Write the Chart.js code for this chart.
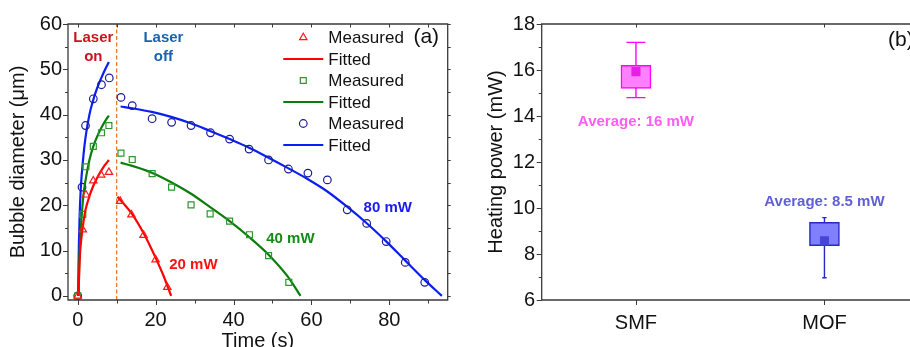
<!DOCTYPE html>
<html><head><meta charset="utf-8">
<script src="https://cdn.jsdelivr.net/npm/chart.js@4.4.0/dist/chart.umd.min.js"></script>
<style>
html,body{margin:0;padding:0;background:#fff;overflow:hidden;width:910px;height:347px;}
#ca{position:absolute;left:0;top:0;}
#cb{position:absolute;left:460px;top:0;}
</style></head><body>
<canvas id="ca" width="460" height="347"></canvas>
<canvas id="cb" width="480" height="347"></canvas>
<script>
// ---------- Panel (a): bubble diameter vs time ----------
const tRed   = [0, 1.3, 2.1, 4, 6, 8, 10.9, 13.8, 16.9, 20, 23];
const dRed   = [0, 14.6, 22.3, 25.4, 26.7, 27.3, 20.9, 17.9, 13.4, 8.0, 1.9];
const tGreen = [0, 1.3, 2.1, 4, 6.1, 8, 11.1, 14, 19.1, 24.1, 29.1, 34, 39, 44.1, 49, 54.2];
const dGreen = [0, 18, 28.5, 33, 36, 37.6, 31.5, 30.1, 27, 24, 20.1, 18.1, 16.5, 13.5, 8.9, 3.0];
const tBlue  = [0, 1.1, 2, 4, 6.1, 8.1, 11.1, 14, 19.1, 24.1, 29.1, 34.1, 39, 44, 49, 54.1, 59.1, 64.1, 69.2, 74.2, 79.2, 84.1, 89.1];
const dBlue  = [0, 24, 37.6, 43.5, 46.6, 48.1, 43.8, 42, 39.1, 38.3, 37.6, 36, 34.6, 32.4, 30, 28, 27.1, 25.6, 19, 16, 12, 7.4, 3];

const fitRedOnT   = [0.2, 0.4, 0.6, 1, 1.5, 2, 3, 4, 5, 6, 7, 8];
const fitRedOnD   = [0, 5.8, 9.5, 13.2, 16.5, 19, 22, 24.3, 26.1, 27.6, 28.9, 30];
const fitRedOffT  = [10.2, 14, 17, 20, 22, 24];
const fitRedOffD  = [21.9, 18, 13.7, 8.4, 4.5, 0];
const fitGreenOnT = [0.2, 0.4, 0.6, 1, 1.5, 2, 3, 4, 5, 6, 7, 8];
const fitGreenOnD = [0, 7.5, 12, 17.5, 22.5, 25.5, 30, 33, 35.2, 37, 38.5, 39.8];
const fitGreenOffT = [11, 14, 19, 24, 29, 34, 39, 44, 49, 54, 57.2];
const fitGreenOffD = [29.4, 28.7, 27.2, 25.1, 22.6, 19.6, 16.5, 13.0, 9.1, 4.2, 0];
const fitBlueOnT  = [0.1, 0.2, 0.3, 0.5, 0.75, 1, 1.5, 2, 3, 4, 5, 6, 7, 8];
const fitBlueOnD  = [0, 6.5, 11.5, 18, 23.2, 26.5, 31.3, 35, 40, 43.3, 45.9, 48, 49.9, 51.6];
const fitBlueOffT = [11, 14, 19, 24, 29, 34, 39, 44, 49, 54, 59, 64, 69, 74, 79, 84, 89, 93.5];
const fitBlueOffD = [41.8, 41.4, 40.6, 39.5, 38.1, 36.4, 34.6, 32.7, 30.5, 28.2, 25.8, 23.1, 19.8, 16.2, 12.2, 7.9, 3.6, 0];

const laserOffTime = 10;
const xTicksA = [0, 20, 40, 60, 80];
const xMinorA = [10, 30, 50, 70, 90];
const yTicksA = [0, 10, 20, 30, 40, 50, 60];
const yMinorA = [5, 15, 25, 35, 45, 55];
const powerLabels = ['20 mW', '40 mW', '80 mW'];

// ---------- Panel (b): heating power box plot ----------
const groups      = ['SMF', 'MOF'];
const boxLow      = [15.2, 8.36];
const boxHigh     = [16.2, 9.38];
const whiskerLow  = [14.8, 6.97];
const whiskerHigh = [17.2, 9.58];
const means       = [15.93, 8.57];
const avgText     = ['Average: 16 mW', 'Average: 8.5 mW'];
const yTicksB     = [6, 8, 10, 12, 14, 16, 18];
const yMinorB     = [7, 9, 11, 13, 15, 17];

const FONT = "'Liberation Sans', Arial, Helvetica, sans-serif";
const pts = (xs, ys) => xs.map((x, i) => ({x: x, y: ys[i]}));
const fitted = (tOn, dOn, tOff, dOff) => [...pts(tOn, dOn), {x: laserOffTime, y: null}, ...pts(tOff, dOff)];

function marker(ctx, style, x, y, r) {
  ctx.beginPath();
  if (style === 'triangle') {
    for (let k = 0; k < 3; k++) {
      const a = -Math.PI / 2 + k * 2 * Math.PI / 3;
      const px = x + r * Math.cos(a), py = y + r * Math.sin(a);
      k ? ctx.lineTo(px, py) : ctx.moveTo(px, py);
    }
    ctx.closePath();
  } else if (style === 'rect') {
    const s = r * Math.SQRT1_2;
    ctx.rect(x - s, y - s, 2 * s, 2 * s);
  } else {
    ctx.arc(x, y, r, 0, Math.PI * 2);
  }
  ctx.stroke();
}

const framePlugin = {
  id: 'frame',
  afterDraw(chart, args, o) {
    const {ctx, chartArea: a, scales: {x, y}} = chart;
    ctx.save();
    ctx.strokeStyle = '#3a3a3a';
    ctx.lineWidth = 1.3;
    ctx.beginPath();
    ctx.rect(a.left, a.top, a.right - a.left, a.bottom - a.top);
    ctx.stroke();
    ctx.lineWidth = 1;
    ctx.beginPath();
    const seg = (x1, y1, x2, y2) => { ctx.moveTo(x1, y1); ctx.lineTo(x2, y2); };
    (o.xMajor || []).forEach(v => { const p = Math.round(x.getPixelForValue(v)) + 0.5; seg(p, a.bottom, p, a.bottom + 5); });
    (o.xMinor || []).forEach(v => { const p = Math.round(x.getPixelForValue(v)) + 0.5; seg(p, a.bottom, p, a.bottom + 3.5); });
    (o.xTop || []).forEach(v => { const p = Math.round(x.getPixelForValue(v)) + 0.5; seg(p, a.top, p, a.top + 3.5); });
    (o.yMajor || []).forEach(v => { const p = Math.round(y.getPixelForValue(v)) + 0.5; seg(a.left, p, a.left - 5, p); });
    (o.yMinor || []).forEach(v => { const p = Math.round(y.getPixelForValue(v)) + 0.5; seg(a.left, p, a.left - 3, p); });
    (o.yRight || []).forEach(v => { const p = Math.round(y.getPixelForValue(v)) + 0.5; seg(a.right, p, a.right + 3, p); });
    ctx.stroke();
    ctx.restore();
  }
};

const textPlugin = {
  id: 'texts',
  afterDatasetsDraw(chart, args, o) {
    const {ctx, scales: {x, y}} = chart;
    ctx.save();
    (o.items || []).forEach(it => {
      ctx.font = (it.bold ? 'bold ' : '') + it.size + 'px ' + FONT;
      ctx.fillStyle = it.color;
      ctx.textAlign = it.align || 'center';
      ctx.textBaseline = 'middle';
      ctx.fillText(it.text, x.getPixelForValue(it.x), y.getPixelForValue(it.y));
    });
    ctx.restore();
  }
};

const legendPlugin = {
  id: 'legendA',
  afterDraw(chart, args, o) {
    const {ctx} = chart;
    const ds = chart.data.datasets.filter(d => d.legend);
    ctx.save();
    ctx.font = '17px ' + FONT;
    ctx.textBaseline = 'middle';
    ctx.textAlign = 'left';
    ds.forEach((d, i) => {
      const yy = o.top + i * o.step;
      if (d.showLine) {
        ctx.strokeStyle = d.borderColor; ctx.lineWidth = d.borderWidth;
        ctx.beginPath(); ctx.moveTo(o.x - 20, yy); ctx.lineTo(o.x + 20, yy); ctx.stroke();
      } else {
        ctx.strokeStyle = d.borderColor; ctx.lineWidth = d.pointBorderWidth;
        marker(ctx, d.pointStyle, o.x, yy, d.pointRadius);
      }
      ctx.fillStyle = '#111';
      ctx.fillText(d.label, o.x + 25, yy + 1);
    });
    ctx.restore();
  }
};

const tickFont = {family: FONT, size: 20};
const measured = (label, xs, ys, style, r, color) => ({
  label: label, legend: true, data: pts(xs, ys), showLine: false, pointStyle: style, pointRadius: r,
  borderColor: color, pointBorderColor: color, pointBackgroundColor: 'rgba(0,0,0,0)', pointBorderWidth: 1.2
});
const fitLine = (data, color) => ({
  label: 'Fitted', legend: true, data: data, showLine: true, borderColor: color, borderWidth: 2.2,
  pointRadius: 0, cubicInterpolationMode: 'monotone', spanGaps: false
});

new Chart(document.getElementById('ca'), {
  type: 'scatter',
  data: {
    datasets: [
      measured('Measured', tRed, dRed, 'triangle', 4.3, '#FF1A1A'),
      fitLine(fitted(fitRedOnT, fitRedOnD, fitRedOffT, fitRedOffD), '#FF0000'),
      measured('Measured', tGreen, dGreen, 'rect', 4.2, '#2E962E'),
      fitLine(fitted(fitGreenOnT, fitGreenOnD, fitGreenOffT, fitGreenOffD), '#0B7D0B'),
      measured('Measured', tBlue, dBlue, 'circle', 3.8, '#1C1C98'),
      fitLine(fitted(fitBlueOnT, fitBlueOnD, fitBlueOffT, fitBlueOffD), '#0A1EF5'),
      { label: 'laser switch', data: [{x: laserOffTime, y: -0.9}, {x: laserOffTime, y: 60}], showLine: true,
        borderColor: '#E8701A', borderWidth: 1.2, borderDash: [4, 2.5], pointRadius: 0 }
    ]
  },
  options: {
    responsive: false, animation: false, events: [],
    layout: {padding: {left: 0, top: 24, right: 12.3, bottom: 0}},
    plugins: {
      legend: {display: false}, tooltip: {enabled: false},
      frame: {xMajor: xTicksA, xMinor: xMinorA, xTop: [...xTicksA, ...xMinorA], yMajor: yTicksA, yMinor: yMinorA, yRight: [...yTicksA, ...yMinorA]},
      legendA: {x: 303.3, top: 37.5, step: 21.5},
      texts: {items: [
        {text: 'Laser', x: 4.0, y: 56.9, size: 15, bold: true, color: '#C8141E'},
        {text: 'on', x: 4.0, y: 52.8, size: 15, bold: true, color: '#C8141E'},
        {text: 'Laser', x: 22, y: 56.9, size: 15, bold: true, color: '#1A62AE'},
        {text: 'off', x: 22, y: 52.8, size: 15, bold: true, color: '#1A62AE'},
        {text: powerLabels[0], x: 29.7, y: 6.8, size: 15, bold: true, color: '#FF1010'},
        {text: powerLabels[1], x: 54.6, y: 12.6, size: 15, bold: true, color: '#188A18'},
        {text: powerLabels[2], x: 79.6, y: 19.5, size: 15, bold: true, color: '#1A1AF0'},
        {text: '(a)', x: 86.2, y: 57.1, size: 21, bold: false, color: '#111', align: 'left'}
      ]}
    },
    scales: {
      x: {
        type: 'linear', min: -2.5, max: 95,
        grid: {display: false, drawTicks: false}, border: {display: false},
        ticks: {font: tickFont, color: '#111', padding: 8, maxRotation: 0},
        afterBuildTicks: s => { s.ticks = xTicksA.map(v => ({value: v})); },
        afterFit: s => { s.height = 47; },
        title: {display: true, text: 'Time (s)', font: tickFont, color: '#111', padding: {top: 0, bottom: -6}}
      },
      y: {
        type: 'linear', min: -0.9, max: 60,
        grid: {display: false, drawTicks: false}, border: {display: false},
        ticks: {font: tickFont, color: '#111', padding: 6},
        afterBuildTicks: s => { s.ticks = yTicksA.map(v => ({value: v})); },
        afterFit: s => { s.width = 68; },
        title: {display: true, text: 'Bubble diameter (μm)', font: tickFont, color: '#111', padding: {top: 6.4, bottom: 0}}
      }
    }
  },
  plugins: [framePlugin, textPlugin, legendPlugin]
});

const boxColors = ['#FF80FF', '#8080FF'];
const edgeColors = ['#FF00FF', '#2828C4'];
const meanColors = ['#E61EE6', '#4646D6'];
const whisker = (i, cap) => ({
  type: 'line', label: groups[i] + ' range',
  data: [{x: groups[i], y: whiskerLow[i]}, {x: groups[i], y: whiskerHigh[i]}],
  borderColor: edgeColors[i], borderWidth: 1.4, pointStyle: 'line', pointRadius: cap,
  pointBorderColor: edgeColors[i], pointBorderWidth: 1.4, order: 3
});

new Chart(document.getElementById('cb'), {
  type: 'bar',
  data: {
    labels: groups,
    datasets: [
      {type: 'bar', label: 'Box', data: groups.map((g, i) => [boxLow[i], boxHigh[i]]),
       backgroundColor: boxColors, borderColor: edgeColors, borderWidth: 1.5, borderSkipped: false,
       barThickness: 30, order: 2},
      whisker(0, 9.5),
      whisker(1, 2.2),
      {type: 'line', label: 'Mean', data: groups.map((g, i) => ({x: g, y: means[i]})), showLine: false,
       pointStyle: 'rect', pointRadius: 6.4, pointBackgroundColor: meanColors, pointBorderWidth: 0, order: 1}
    ]
  },
  options: {
    responsive: false, animation: false, events: [],
    layout: {padding: {left: 0, top: 24, right: 21.3, bottom: 0}},
    plugins: {
      legend: {display: false}, tooltip: {enabled: false},
      frame: {xMajor: [0, 1], xTop: [0, 1], yMajor: yTicksB, yMinor: yMinorB},
      texts: {items: [
        {text: avgText[0], x: 0, y: 13.73, size: 15, bold: true, color: '#FF5CF0'},
        {text: avgText[1], x: 1, y: 10.27, size: 15, bold: true, color: '#6060D6'},
        {text: '(b)', x: 1.337, y: 17.3, size: 21, bold: false, color: '#111', align: 'left'}
      ]}
    },
    scales: {
      x: {
        type: 'category', offset: true,
        grid: {display: false, drawTicks: false}, border: {display: false},
        ticks: {font: tickFont, color: '#111', padding: 11, maxRotation: 0},
        afterFit: s => { s.height = 47; }
      },
      y: {
        type: 'linear', min: 6, max: 18,
        grid: {display: false, drawTicks: false}, border: {display: false},
        ticks: {font: tickFont, color: '#111', padding: 6.7},
        afterBuildTicks: s => { s.ticks = yTicksB.map(v => ({value: v})); },
        afterFit: s => { s.width = 81.7; },
        title: {display: true, text: 'Heating power (mW)', font: tickFont, color: '#111', padding: {top: 24.4, bottom: 0}}
      }
    }
  },
  plugins: [framePlugin, textPlugin]
});
</script></body></html>
